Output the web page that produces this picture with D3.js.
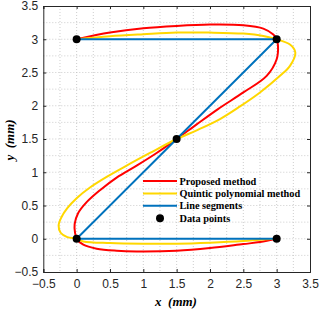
<!DOCTYPE html>
<html>
<head>
<meta charset="utf-8">
<script src="https://cdn.jsdelivr.net/npm/d3@7"></script>
<style>
  body { margin: 0; background: #fff; }
  svg { display: block; }
</style>
</head>
<body>
<script>
// values (x, y in mm)
const pointsX = [0, 3, 1.5, 0, 3];
const pointsY = [3, 3, 1.5, 0, 0];

const proposedX = [0, 0.5, 1.0, 1.5, 2.0, 2.5, 2.8, 2.95, 3.0, 3.02, 3.0, 2.85, 2.5, 2.12, 1.8, 1.5,
                   1.2, 0.9, 0.6, 0.35, 0.15, 0.02, -0.03, -0.025, 0, 0.1, 0.3, 0.6, 0.9, 1.5, 2.0, 2.5, 2.75, 3.0];
const proposedY = [3, 3.1, 3.165, 3.2, 3.22, 3.21, 3.16, 3.07, 3.0, 2.9, 2.7, 2.45, 2.2, 1.95, 1.72, 1.5,
                   1.29, 1.1, 0.92, 0.73, 0.55, 0.38, 0.22, 0.1, 0, -0.09, -0.15, -0.18, -0.19, -0.18, -0.14, -0.08, -0.05, 0];

const quinticX = [0, 0.5, 1.0, 1.5, 2.0, 2.5, 2.8, 3.0, 3.2, 3.28, 3.2, 3.05, 2.75, 2.45, 2.15, 1.8, 1.5,
                  1.1, 0.75, 0.45, 0.2, 0.0, -0.14, -0.23, -0.27, -0.24, -0.14, 0, 0.1, 0.5, 1.0, 1.5, 2.0, 2.5, 2.75, 3.0];
const quinticY = [3, 3.045, 3.075, 3.1, 3.1, 3.085, 3.05, 3.0, 2.92, 2.8, 2.6, 2.45, 2.2, 1.99, 1.8, 1.63, 1.5,
                  1.29, 1.1, 0.93, 0.77, 0.61, 0.46, 0.32, 0.2, 0.09, 0.025, 0, -0.04, -0.065, -0.075, -0.075, -0.06, -0.035, -0.015, 0];

const segX = [0, 3, 0, 3];
const segY = [3, 3, 0, 0];

const tickVals = [-0.5, 0, 0.5, 1, 1.5, 2, 2.5, 3, 3.5];
const legendNames = ['Proposed method', 'Quintic polynomial method', 'Line segments', 'Data points'];

const W = 320, H = 311;
const mLeft = 43.3, mRight = 310, mTop = 6, mBottom = 272;

const svg = d3.select('body').append('svg')
  .attr('width', W)
  .attr('height', H);

const x = d3.scaleLinear().domain([-0.5, 3.5]).range([mLeft, mRight]);
const y = d3.scaleLinear().domain([-0.5, 3.5]).range([mBottom, mTop]);

// dotted grid, major and minor
const gridVals = d3.range(-0.25, 3.5, 0.25);
svg.append('g').selectAll('line.gx')
  .data(gridVals)
  .enter().append('line')
  .attr('x1', d => x(d)).attr('x2', d => x(d))
  .attr('y1', mTop).attr('y2', mBottom)
  .attr('stroke', '#c0c0c0').attr('stroke-width', 0.8)
  .attr('stroke-dasharray', '1,2');
svg.append('g').selectAll('line.gy')
  .data(gridVals)
  .enter().append('line')
  .attr('x1', mLeft).attr('x2', mRight)
  .attr('y1', d => y(d)).attr('y2', d => y(d))
  .attr('stroke', '#c0c0c0').attr('stroke-width', 0.8)
  .attr('stroke-dasharray', '1,2');

// axes
const axisColor = '#262626';
const xAxis = svg.append('g')
  .attr('transform', `translate(0,${mBottom})`)
  .call(d3.axisBottom(x).tickValues(tickVals).tickSize(-3).tickPadding(6).tickFormat(d3.format('')));
const xTop = svg.append('g')
  .attr('transform', `translate(0,${mTop})`)
  .call(d3.axisTop(x).tickValues(tickVals).tickSize(-3).tickFormat(''));
const yAxis = svg.append('g')
  .attr('transform', `translate(${mLeft},0)`)
  .call(d3.axisLeft(y).tickValues(tickVals).tickSize(-3).tickPadding(5).tickFormat(d3.format('')));
const yRight = svg.append('g')
  .attr('transform', `translate(${mRight},0)`)
  .call(d3.axisRight(y).tickValues(tickVals).tickSize(-3).tickFormat(''));

[xAxis, xTop, yAxis, yRight].forEach(g => {
  g.select('.domain').attr('stroke', axisColor);
  g.selectAll('.tick line').attr('stroke', axisColor);
  g.selectAll('text')
    .attr('fill', axisColor)
    .style('font-family', 'Liberation Sans, Arial, sans-serif')
    .style('font-size', '12px');
});
xAxis.selectAll('text').attr('dy', '0.8em');

// curves
const line = d3.line()
  .x(d => x(d[0]))
  .y(d => y(d[1]))
  .curve(d3.curveCatmullRom.alpha(0.5));

svg.append('path')
  .datum(d3.zip(proposedX, proposedY))
  .attr('d', line)
  .attr('fill', 'none').attr('stroke', '#ff0000').attr('stroke-width', 2);

svg.append('path')
  .datum(d3.zip(quinticX, quinticY))
  .attr('d', line)
  .attr('fill', 'none').attr('stroke', '#ffd700').attr('stroke-width', 2);

svg.append('path')
  .datum(d3.zip(segX, segY))
  .attr('d', d3.line().x(d => x(d[0])).y(d => y(d[1])))
  .attr('fill', 'none').attr('stroke', '#0072bd').attr('stroke-width', 2);

svg.append('g').selectAll('circle')
  .data(d3.zip(pointsX, pointsY))
  .enter().append('circle')
  .attr('cx', d => x(d[0]))
  .attr('cy', d => y(d[1]))
  .attr('r', 4)
  .attr('fill', '#000');

// legend
const legendColors = ['#ff0000', '#ffd700', '#0072bd', '#000'];
const legend = svg.append('g');
legendNames.forEach((name, i) => {
  const ly = 181 + i * 12.4;
  if (i < 3) {
    legend.append('line')
      .attr('x1', 143).attr('x2', 177)
      .attr('y1', ly).attr('y2', ly)
      .attr('stroke', legendColors[i]).attr('stroke-width', 2);
  } else {
    legend.append('circle')
      .attr('cx', 160).attr('cy', ly).attr('r', 4).attr('fill', '#000');
  }
  legend.append('text')
    .attr('x', 179.5).attr('y', ly)
    .attr('dy', '0.35em')
    .style('font-family', 'Liberation Serif, Times New Roman, serif')
    .style('font-weight', 'bold')
    .style('font-size', '10.3px')
    .text(name);
});

// axis labels
svg.append('text')
  .attr('x', 176).attr('y', 306)
  .attr('text-anchor', 'middle')
  .style('font-family', 'Liberation Serif, Times New Roman, serif')
  .style('font-weight', 'bold')
  .style('font-style', 'italic')
  .style('font-size', '13px')
  .attr('xml:space', 'preserve')
  .text('x  (mm)');

svg.append('text')
  .attr('transform', `translate(14,140) rotate(-90)`)
  .attr('text-anchor', 'middle')
  .style('font-family', 'Liberation Serif, Times New Roman, serif')
  .style('font-weight', 'bold')
  .style('font-style', 'italic')
  .style('font-size', '13px')
  .attr('xml:space', 'preserve')
  .text('y  (mm)');
</script>
</body>
</html>
